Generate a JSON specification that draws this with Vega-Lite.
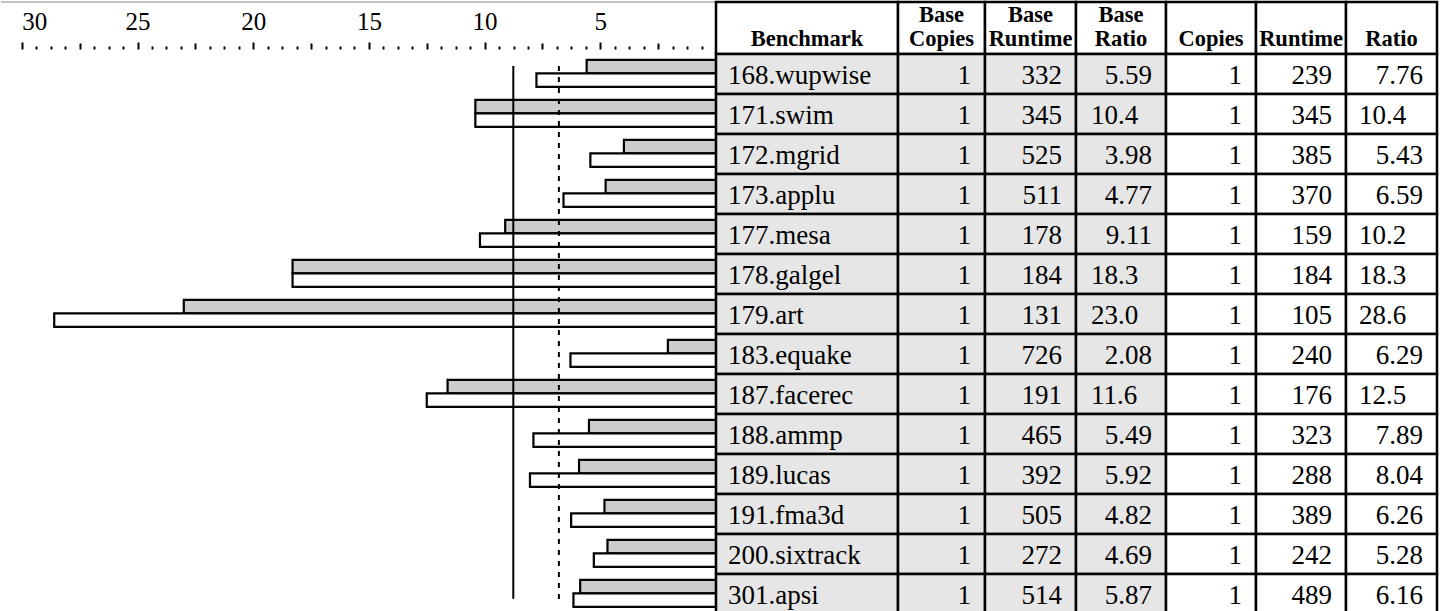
{
  "$schema": "https://vega.github.io/schema/vega-lite/v6.json",
  "padding": 0,
  "spacing": 0,
  "columns": 8,
  "bounds": "flush",
  "config": {"view": {"stroke": null}, "concat": {"spacing": 0}, "font": "Liberation Serif"},
  "datasets": {
    "rows": [
      {"bench": "168.wupwise", "base_copies": 1, "base_runtime": 332, "base_ratio": 5.59, "copies": 1, "runtime": 239, "ratio": 7.76},
      {"bench": "171.swim", "base_copies": 1, "base_runtime": 345, "base_ratio": 10.4, "copies": 1, "runtime": 345, "ratio": 10.4},
      {"bench": "172.mgrid", "base_copies": 1, "base_runtime": 525, "base_ratio": 3.98, "copies": 1, "runtime": 385, "ratio": 5.43},
      {"bench": "173.applu", "base_copies": 1, "base_runtime": 511, "base_ratio": 4.77, "copies": 1, "runtime": 370, "ratio": 6.59},
      {"bench": "177.mesa", "base_copies": 1, "base_runtime": 178, "base_ratio": 9.11, "copies": 1, "runtime": 159, "ratio": 10.2},
      {"bench": "178.galgel", "base_copies": 1, "base_runtime": 184, "base_ratio": 18.3, "copies": 1, "runtime": 184, "ratio": 18.3},
      {"bench": "179.art", "base_copies": 1, "base_runtime": 131, "base_ratio": 23.0, "copies": 1, "runtime": 105, "ratio": 28.6},
      {"bench": "183.equake", "base_copies": 1, "base_runtime": 726, "base_ratio": 2.08, "copies": 1, "runtime": 240, "ratio": 6.29},
      {"bench": "187.facerec", "base_copies": 1, "base_runtime": 191, "base_ratio": 11.6, "copies": 1, "runtime": 176, "ratio": 12.5},
      {"bench": "188.ammp", "base_copies": 1, "base_runtime": 465, "base_ratio": 5.49, "copies": 1, "runtime": 323, "ratio": 7.89},
      {"bench": "189.lucas", "base_copies": 1, "base_runtime": 392, "base_ratio": 5.92, "copies": 1, "runtime": 288, "ratio": 8.04},
      {"bench": "191.fma3d", "base_copies": 1, "base_runtime": 505, "base_ratio": 4.82, "copies": 1, "runtime": 389, "ratio": 6.26},
      {"bench": "200.sixtrack", "base_copies": 1, "base_runtime": 272, "base_ratio": 4.69, "copies": 1, "runtime": 242, "ratio": 5.28},
      {"bench": "301.apsi", "base_copies": 1, "base_runtime": 514, "base_ratio": 5.87, "copies": 1, "runtime": 489, "ratio": 6.16}
    ],
    "geo": [
      {"kind": "peak", "value": 8.76},
      {"kind": "base", "value": 6.79}
    ]
  },
  "concat": [
    {
      "width": 715, "height": 52,
      "data": {"values": [{"edge": "top"}]},
      "mark": {"type": "rule", "color": "#888888", "strokeWidth": 1},
      "encoding": {
        "x": {"datum": 0, "type": "quantitative", "scale": {"domain": [0, 1]}, "axis": null},
        "x2": {"datum": 1},
        "y": {"datum": 1, "type": "quantitative", "scale": {"domain": [0, 1]}, "axis": null}
      }
    },
    {
      "width": 182, "height": 52,
      "data": {"values": [{"l1": "", "l2": "Benchmark"}]},
      "layer": [
        {"mark": {"type": "rect", "fill": "white", "stroke": "black", "strokeWidth": 2.5},
         "encoding": {"x": {"datum": 0, "type": "quantitative", "scale": {"domain": [0, 1]}, "axis": null}, "x2": {"datum": 1},
                      "y": {"datum": 0, "type": "quantitative", "scale": {"domain": [0, 1]}, "axis": null}, "y2": {"datum": 1}}},
        {"mark": {"type": "text", "baseline": "alphabetic", "dy": -8, "fontSize": 22.5, "fontWeight": "bold", "color": "black"},
         "encoding": {"x": {"datum": 0.5, "type": "quantitative"}, "y": {"datum": 0, "type": "quantitative"}, "text": {"field": "l2", "type": "nominal"}}},
        {"mark": {"type": "text", "baseline": "alphabetic", "dy": -32, "fontSize": 22.5, "fontWeight": "bold", "color": "black"},
         "encoding": {"x": {"datum": 0.5, "type": "quantitative"}, "y": {"datum": 0, "type": "quantitative"}, "text": {"field": "l1", "type": "nominal"}}}
      ]
    },
    {
      "width": 87, "height": 52,
      "data": {"values": [{"l1": "Base", "l2": "Copies"}]},
      "layer": [
        {"mark": {"type": "rect", "fill": "white", "stroke": "black", "strokeWidth": 2.5},
         "encoding": {"x": {"datum": 0, "type": "quantitative", "scale": {"domain": [0, 1]}, "axis": null}, "x2": {"datum": 1},
                      "y": {"datum": 0, "type": "quantitative", "scale": {"domain": [0, 1]}, "axis": null}, "y2": {"datum": 1}}},
        {"mark": {"type": "text", "baseline": "alphabetic", "dy": -8, "fontSize": 22.5, "fontWeight": "bold", "color": "black"},
         "encoding": {"x": {"datum": 0.5, "type": "quantitative"}, "y": {"datum": 0, "type": "quantitative"}, "text": {"field": "l2", "type": "nominal"}}},
        {"mark": {"type": "text", "baseline": "alphabetic", "dy": -32, "fontSize": 22.5, "fontWeight": "bold", "color": "black"},
         "encoding": {"x": {"datum": 0.5, "type": "quantitative"}, "y": {"datum": 0, "type": "quantitative"}, "text": {"field": "l1", "type": "nominal"}}}
      ]
    },
    {
      "width": 91, "height": 52,
      "data": {"values": [{"l1": "Base", "l2": "Runtime"}]},
      "layer": [
        {"mark": {"type": "rect", "fill": "white", "stroke": "black", "strokeWidth": 2.5},
         "encoding": {"x": {"datum": 0, "type": "quantitative", "scale": {"domain": [0, 1]}, "axis": null}, "x2": {"datum": 1},
                      "y": {"datum": 0, "type": "quantitative", "scale": {"domain": [0, 1]}, "axis": null}, "y2": {"datum": 1}}},
        {"mark": {"type": "text", "baseline": "alphabetic", "dy": -8, "fontSize": 22.5, "fontWeight": "bold", "color": "black"},
         "encoding": {"x": {"datum": 0.5, "type": "quantitative"}, "y": {"datum": 0, "type": "quantitative"}, "text": {"field": "l2", "type": "nominal"}}},
        {"mark": {"type": "text", "baseline": "alphabetic", "dy": -32, "fontSize": 22.5, "fontWeight": "bold", "color": "black"},
         "encoding": {"x": {"datum": 0.5, "type": "quantitative"}, "y": {"datum": 0, "type": "quantitative"}, "text": {"field": "l1", "type": "nominal"}}}
      ]
    },
    {
      "width": 90, "height": 52,
      "data": {"values": [{"l1": "Base", "l2": "Ratio"}]},
      "layer": [
        {"mark": {"type": "rect", "fill": "white", "stroke": "black", "strokeWidth": 2.5},
         "encoding": {"x": {"datum": 0, "type": "quantitative", "scale": {"domain": [0, 1]}, "axis": null}, "x2": {"datum": 1},
                      "y": {"datum": 0, "type": "quantitative", "scale": {"domain": [0, 1]}, "axis": null}, "y2": {"datum": 1}}},
        {"mark": {"type": "text", "baseline": "alphabetic", "dy": -8, "fontSize": 22.5, "fontWeight": "bold", "color": "black"},
         "encoding": {"x": {"datum": 0.5, "type": "quantitative"}, "y": {"datum": 0, "type": "quantitative"}, "text": {"field": "l2", "type": "nominal"}}},
        {"mark": {"type": "text", "baseline": "alphabetic", "dy": -32, "fontSize": 22.5, "fontWeight": "bold", "color": "black"},
         "encoding": {"x": {"datum": 0.5, "type": "quantitative"}, "y": {"datum": 0, "type": "quantitative"}, "text": {"field": "l1", "type": "nominal"}}}
      ]
    },
    {
      "width": 90, "height": 52,
      "data": {"values": [{"l1": "", "l2": "Copies"}]},
      "layer": [
        {"mark": {"type": "rect", "fill": "white", "stroke": "black", "strokeWidth": 2.5},
         "encoding": {"x": {"datum": 0, "type": "quantitative", "scale": {"domain": [0, 1]}, "axis": null}, "x2": {"datum": 1},
                      "y": {"datum": 0, "type": "quantitative", "scale": {"domain": [0, 1]}, "axis": null}, "y2": {"datum": 1}}},
        {"mark": {"type": "text", "baseline": "alphabetic", "dy": -8, "fontSize": 22.5, "fontWeight": "bold", "color": "black"},
         "encoding": {"x": {"datum": 0.5, "type": "quantitative"}, "y": {"datum": 0, "type": "quantitative"}, "text": {"field": "l2", "type": "nominal"}}},
        {"mark": {"type": "text", "baseline": "alphabetic", "dy": -32, "fontSize": 22.5, "fontWeight": "bold", "color": "black"},
         "encoding": {"x": {"datum": 0.5, "type": "quantitative"}, "y": {"datum": 0, "type": "quantitative"}, "text": {"field": "l1", "type": "nominal"}}}
      ]
    },
    {
      "width": 90, "height": 52,
      "data": {"values": [{"l1": "", "l2": "Runtime"}]},
      "layer": [
        {"mark": {"type": "rect", "fill": "white", "stroke": "black", "strokeWidth": 2.5},
         "encoding": {"x": {"datum": 0, "type": "quantitative", "scale": {"domain": [0, 1]}, "axis": null}, "x2": {"datum": 1},
                      "y": {"datum": 0, "type": "quantitative", "scale": {"domain": [0, 1]}, "axis": null}, "y2": {"datum": 1}}},
        {"mark": {"type": "text", "baseline": "alphabetic", "dy": -8, "fontSize": 22.5, "fontWeight": "bold", "color": "black"},
         "encoding": {"x": {"datum": 0.5, "type": "quantitative"}, "y": {"datum": 0, "type": "quantitative"}, "text": {"field": "l2", "type": "nominal"}}},
        {"mark": {"type": "text", "baseline": "alphabetic", "dy": -32, "fontSize": 22.5, "fontWeight": "bold", "color": "black"},
         "encoding": {"x": {"datum": 0.5, "type": "quantitative"}, "y": {"datum": 0, "type": "quantitative"}, "text": {"field": "l1", "type": "nominal"}}}
      ]
    },
    {
      "width": 91, "height": 52,
      "data": {"values": [{"l1": "", "l2": "Ratio"}]},
      "layer": [
        {"mark": {"type": "rect", "fill": "white", "stroke": "black", "strokeWidth": 2.5},
         "encoding": {"x": {"datum": 0, "type": "quantitative", "scale": {"domain": [0, 1]}, "axis": null}, "x2": {"datum": 1},
                      "y": {"datum": 0, "type": "quantitative", "scale": {"domain": [0, 1]}, "axis": null}, "y2": {"datum": 1}}},
        {"mark": {"type": "text", "baseline": "alphabetic", "dy": -8, "fontSize": 22.5, "fontWeight": "bold", "color": "black"},
         "encoding": {"x": {"datum": 0.5, "type": "quantitative"}, "y": {"datum": 0, "type": "quantitative"}, "text": {"field": "l2", "type": "nominal"}}},
        {"mark": {"type": "text", "baseline": "alphabetic", "dy": -32, "fontSize": 22.5, "fontWeight": "bold", "color": "black"},
         "encoding": {"x": {"datum": 0.5, "type": "quantitative"}, "y": {"datum": 0, "type": "quantitative"}, "text": {"field": "l1", "type": "nominal"}}}
      ]
    },
    {
      "width": 715,
      "height": 560,
      "data": {"name": "rows"},
      "resolve": {"axis": {"x": "independent"}},
      "layer": [
        {
          "transform": [{"fold": ["base_ratio", "ratio"], "as": ["series", "val"]}, {"filter": "datum.series == 'base_ratio'"}],
          "mark": {"type": "bar", "fill": "#cccccc", "stroke": "black", "strokeWidth": 2.2},
          "encoding": {
            "y": {"field": "bench", "type": "nominal", "sort": null, "axis": null,
                  "scale": {"domain": ["168.wupwise","171.swim","172.mgrid","173.applu","177.mesa","178.galgel","179.art","183.equake","187.facerec","188.ammp","189.lucas","191.fma3d","200.sixtrack","301.apsi"], "paddingInner": 0, "paddingOuter": 0}},
            "yOffset": {"field": "series", "type": "nominal", "scale": {"domain": ["base_ratio", "ratio"], "paddingInner": 0, "paddingOuter": 0.48, "align": 0.45}},
            "x": {"field": "val", "type": "quantitative",
                  "scale": {"domain": [0, 30.9], "reverse": true, "nice": false, "zero": true},
                  "axis": {"orient": "top", "offset": 5, "values": [5, 10, 15, 20, 25, 30], "domain": false, "grid": false, "title": null,
                           "ticks": true, "tickSize": 7, "tickWidth": 2, "tickColor": "black",
                           "labels": true, "labelFont": "Liberation Serif", "labelFontSize": 25, "labelColor": "black", "labelPadding": 8, "labelFlush": 30}}
          }
        },
        {
          "transform": [{"fold": ["base_ratio", "ratio"], "as": ["series", "val"]}, {"filter": "datum.series == 'ratio'"}],
          "mark": {"type": "bar", "fill": "#ffffff", "stroke": "black", "strokeWidth": 2.2},
          "encoding": {
            "y": {"field": "bench", "type": "nominal", "sort": null},
            "yOffset": {"field": "series", "type": "nominal"},
            "x": {"field": "val", "type": "quantitative",
                  "axis": {"orient": "top", "offset": 5, "values": [2.5, 7.5, 12.5, 17.5, 22.5, 27.5], "domain": false, "grid": false, "title": null,
                           "ticks": true, "tickSize": 6, "tickWidth": 2, "tickColor": "black", "labels": false}}
          }
        },
        {
          "data": {"name": "geo"},
          "transform": [{"filter": "datum.kind == 'peak'"}],
          "mark": {"type": "rule", "color": "black", "strokeWidth": 2},
          "encoding": {
            "x": {"field": "value", "type": "quantitative",
                  "axis": {"orient": "top", "offset": 5, "values": [0.625,1.25,1.875,3.125,3.75,4.375,5.625,6.25,6.875,8.125,8.75,9.375,10.625,11.25,11.875,13.125,13.75,14.375,15.625,16.25,16.875,18.125,18.75,19.375,20.625,21.25,21.875,23.125,23.75,24.375,25.625,26.25,26.875,28.125,28.75,29.375],
                           "domain": false, "grid": false, "title": null, "ticks": true, "tickSize": 3, "tickWidth": 2, "tickColor": "black", "labels": false}},
            "y": {"datum": "168.wupwise", "type": "nominal", "bandPosition": 0.3},
            "y2": {"datum": "301.apsi", "bandPosition": 0.62}
          }
        },
        {
          "data": {"name": "geo"},
          "transform": [{"filter": "datum.kind == 'base'"}],
          "mark": {"type": "rule", "color": "black", "strokeWidth": 2, "strokeDash": [5, 6]},
          "encoding": {
            "x": {"field": "value", "type": "quantitative", "axis": null},
            "y": {"datum": "168.wupwise", "type": "nominal", "bandPosition": 0.3},
            "y2": {"datum": "301.apsi", "bandPosition": 0.65}
          }
        }
      ]
    },
    {
      "width": 182, "height": 560,
      "data": {"name": "rows"},
      "encoding": {"y": {"field": "bench", "type": "nominal", "sort": null, "scale": {"paddingInner": 0, "paddingOuter": 0}, "axis": null}},
      "layer": [
        {"mark": {"type": "rect", "fill": "#e6e6e6", "stroke": "black", "strokeWidth": 2.5},
         "encoding": {"x": {"datum": 0, "type": "quantitative", "scale": {"domain": [0, 1]}, "axis": null}, "x2": {"datum": 1}}},
        {"mark": {"type": "text", "align": "left", "baseline": "middle", "dx": 12, "dy": 2, "fontSize": 27, "color": "black"},
         "encoding": {"x": {"datum": 0, "type": "quantitative"}, "text": {"field": "bench", "type": "nominal"}}}
      ]
    },
    {
      "width": 87, "height": 560,
      "data": {"name": "rows"},
      "encoding": {"y": {"field": "bench", "type": "nominal", "sort": null, "scale": {"paddingInner": 0, "paddingOuter": 0}, "axis": null}},
      "layer": [
        {"mark": {"type": "rect", "fill": "#e6e6e6", "stroke": "black", "strokeWidth": 2.5},
         "encoding": {"x": {"datum": 0, "type": "quantitative", "scale": {"domain": [0, 1]}, "axis": null}, "x2": {"datum": 1}}},
        {"mark": {"type": "text", "align": "right", "baseline": "middle", "dx": -14, "dy": 2, "fontSize": 27, "color": "black"},
         "encoding": {"x": {"datum": 1, "type": "quantitative"}, "text": {"field": "base_copies", "type": "nominal"}}}
      ]
    },
    {
      "width": 91, "height": 560,
      "data": {"name": "rows"},
      "encoding": {"y": {"field": "bench", "type": "nominal", "sort": null, "scale": {"paddingInner": 0, "paddingOuter": 0}, "axis": null}},
      "layer": [
        {"mark": {"type": "rect", "fill": "#e6e6e6", "stroke": "black", "strokeWidth": 2.5},
         "encoding": {"x": {"datum": 0, "type": "quantitative", "scale": {"domain": [0, 1]}, "axis": null}, "x2": {"datum": 1}}},
        {"mark": {"type": "text", "align": "right", "baseline": "middle", "dx": -14, "dy": 2, "fontSize": 27, "color": "black"},
         "encoding": {"x": {"datum": 1, "type": "quantitative"}, "text": {"field": "base_runtime", "type": "nominal"}}}
      ]
    },
    {
      "width": 90, "height": 560,
      "data": {"name": "rows"},
      "encoding": {"y": {"field": "bench", "type": "nominal", "sort": null, "scale": {"paddingInner": 0, "paddingOuter": 0}, "axis": null}},
      "layer": [
        {"mark": {"type": "rect", "fill": "#e6e6e6", "stroke": "black", "strokeWidth": 2.5},
         "encoding": {"x": {"datum": 0, "type": "quantitative", "scale": {"domain": [0, 1]}, "axis": null}, "x2": {"datum": 1}}},
        {"transform": [{"filter": "datum.base_ratio < 10"}],
         "mark": {"type": "text", "align": "right", "baseline": "middle", "dx": -14, "dy": 2, "fontSize": 27, "color": "black"},
         "encoding": {"x": {"datum": 1, "type": "quantitative"}, "text": {"field": "base_ratio", "type": "quantitative", "format": ".3r"}}},
        {"transform": [{"filter": "datum.base_ratio >= 10"}],
         "mark": {"type": "text", "align": "left", "baseline": "middle", "dx": 15, "dy": 2, "fontSize": 27, "color": "black"},
         "encoding": {"x": {"datum": 0, "type": "quantitative"}, "text": {"field": "base_ratio", "type": "quantitative", "format": ".3r"}}}
      ]
    },
    {
      "width": 90, "height": 560,
      "data": {"name": "rows"},
      "encoding": {"y": {"field": "bench", "type": "nominal", "sort": null, "scale": {"paddingInner": 0, "paddingOuter": 0}, "axis": null}},
      "layer": [
        {"mark": {"type": "rect", "fill": "#ffffff", "stroke": "black", "strokeWidth": 2.5},
         "encoding": {"x": {"datum": 0, "type": "quantitative", "scale": {"domain": [0, 1]}, "axis": null}, "x2": {"datum": 1}}},
        {"mark": {"type": "text", "align": "right", "baseline": "middle", "dx": -14, "dy": 2, "fontSize": 27, "color": "black"},
         "encoding": {"x": {"datum": 1, "type": "quantitative"}, "text": {"field": "copies", "type": "nominal"}}}
      ]
    },
    {
      "width": 90, "height": 560,
      "data": {"name": "rows"},
      "encoding": {"y": {"field": "bench", "type": "nominal", "sort": null, "scale": {"paddingInner": 0, "paddingOuter": 0}, "axis": null}},
      "layer": [
        {"mark": {"type": "rect", "fill": "#ffffff", "stroke": "black", "strokeWidth": 2.5},
         "encoding": {"x": {"datum": 0, "type": "quantitative", "scale": {"domain": [0, 1]}, "axis": null}, "x2": {"datum": 1}}},
        {"mark": {"type": "text", "align": "right", "baseline": "middle", "dx": -14, "dy": 2, "fontSize": 27, "color": "black"},
         "encoding": {"x": {"datum": 1, "type": "quantitative"}, "text": {"field": "runtime", "type": "nominal"}}}
      ]
    },
    {
      "width": 91, "height": 560,
      "data": {"name": "rows"},
      "encoding": {"y": {"field": "bench", "type": "nominal", "sort": null, "scale": {"paddingInner": 0, "paddingOuter": 0}, "axis": null}},
      "layer": [
        {"mark": {"type": "rect", "fill": "#ffffff", "stroke": "black", "strokeWidth": 2.5},
         "encoding": {"x": {"datum": 0, "type": "quantitative", "scale": {"domain": [0, 1]}, "axis": null}, "x2": {"datum": 1}}},
        {"transform": [{"filter": "datum.ratio < 10"}],
         "mark": {"type": "text", "align": "right", "baseline": "middle", "dx": -14, "dy": 2, "fontSize": 27, "color": "black"},
         "encoding": {"x": {"datum": 1, "type": "quantitative"}, "text": {"field": "ratio", "type": "quantitative", "format": ".3r"}}},
        {"transform": [{"filter": "datum.ratio >= 10"}],
         "mark": {"type": "text", "align": "left", "baseline": "middle", "dx": 13, "dy": 2, "fontSize": 27, "color": "black"},
         "encoding": {"x": {"datum": 0, "type": "quantitative"}, "text": {"field": "ratio", "type": "quantitative", "format": ".3r"}}}
      ]
    }
  ]
}
